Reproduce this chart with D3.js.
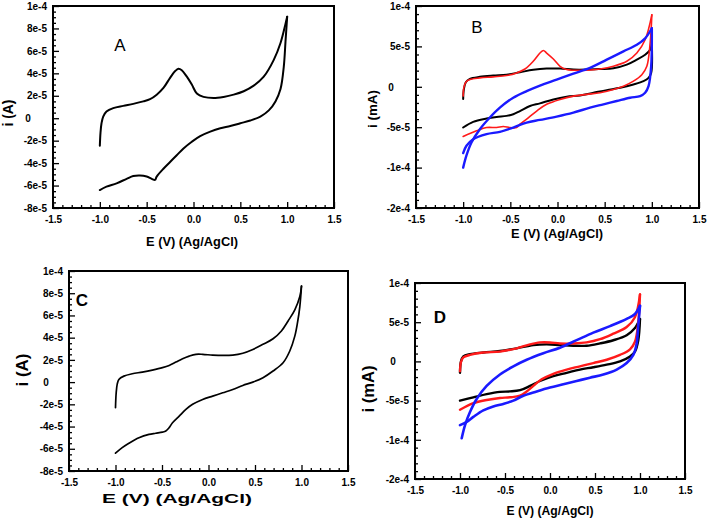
<!DOCTYPE html>
<html><head><meta charset="utf-8">
<script src="https://cdn.jsdelivr.net/npm/d3@7"></script>
<style>html,body{margin:0;padding:0;background:#fff;}svg{display:block;}</style>
</head><body>
<svg id="chart" width="709" height="519"></svg>
<script>
// ---------- DATA (current in units of 1e-5 A) ----------
const xTicks = [-1.5,-1,-0.5,0,0.5,1,1.5];
const xTickLabels = ["-1.5","-1.0","-0.5","0.0","0.5","1.0","1.5"];
const yTicksAC = [10,8,6,4,2,0,-2,-4,-6,-8];
const yTickLabelsAC = ["1e-4","8e-5","6e-5","4e-5","2e-5","0","-2e-5","-4e-5","-6e-5","-8e-5"];
const yTicksBD = [10,5,0,-5,-10,-15];
const yTickLabelsBD = ["1e-4","5e-5","0","-5e-5","-1e-4","-2e-4"];

// Panel A
const aFwdE = [-1.0,-0.993,-0.982,-0.964,-0.929,-0.857,-0.75,-0.643,-0.536,-0.464,-0.393,-0.321,-0.25,-0.196,-0.161,-0.125,-0.071,-0.018,0.036,0.107,0.214,0.321,0.429,0.536,0.643,0.75,0.857,0.929,0.982,1.0];
const aFwdI = [-2.45,-1.3,-0.45,0.15,0.6,0.9,1.1,1.28,1.5,1.7,2.1,2.7,3.6,4.2,4.4,4.27,3.7,3.0,2.2,1.9,1.8,1.9,2.1,2.4,2.9,3.7,5.2,6.7,8.4,9.05];
const aRevE = [1.0,0.982,0.964,0.929,0.875,0.804,0.714,0.607,0.5,0.393,0.286,0.179,0.071,-0.018,-0.107,-0.179,-0.25,-0.321,-0.393,-0.411,-0.446,-0.5,-0.571,-0.643,-0.714,-0.821,-0.929,-1.0];
const aRevI = [9.05,6.8,4.6,2.6,1.5,0.7,0.15,-0.2,-0.45,-0.7,-0.9,-1.2,-1.6,-2.1,-2.7,-3.3,-3.9,-4.5,-5.2,-5.5,-5.4,-5.2,-5.1,-5.15,-5.4,-5.8,-6.1,-6.4];

// Panel C
const cFwdE = [-1.0,-0.993,-0.982,-0.964,-0.91,-0.82,-0.712,-0.604,-0.495,-0.423,-0.351,-0.279,-0.207,-0.135,-0.063,0.045,0.153,0.261,0.369,0.477,0.586,0.694,0.784,0.856,0.928,0.982,1.0];
const cFwdI = [-2.3,-1.0,-0.2,0.24,0.54,0.75,0.9,1.08,1.3,1.5,1.8,2.1,2.34,2.5,2.5,2.43,2.4,2.43,2.6,2.94,3.4,3.9,4.6,5.5,6.5,7.7,8.65];
const cRevE = [1.0,0.982,0.957,0.928,0.874,0.802,0.694,0.586,0.477,0.369,0.261,0.153,0.045,-0.063,-0.171,-0.243,-0.315,-0.387,-0.423,-0.459,-0.495,-0.568,-0.640,-0.748,-0.856,-0.928,-1.0];
const cRevI = [8.65,6.8,5.35,4.14,2.8,1.74,1.0,0.4,0.0,-0.3,-0.66,-0.96,-1.26,-1.56,-2.0,-2.46,-3.06,-3.66,-4.1,-4.4,-4.5,-4.6,-4.7,-5.0,-5.5,-5.9,-6.4];

// Panel B
const bBlackFwdE = [-1.0,-0.993,-0.972,-0.929,-0.823,-0.681,-0.540,-0.398,-0.257,-0.115,0.027,0.168,0.310,0.451,0.593,0.735,0.841,0.929,0.982,1.0];
const bBlackFwdI = [-1.5,-0.33,0.57,0.98,1.23,1.39,1.5,1.8,2.1,2.25,2.25,2.13,2.13,2.2,2.3,2.75,3.36,3.97,4.6,5.4];
const bBlackRevE = [1.0,0.993,0.965,0.912,0.805,0.664,0.522,0.381,0.239,0.097,-0.044,-0.186,-0.292,-0.398,-0.469,-0.540,-0.646,-0.752,-0.894,-1.0];
const bBlackRevI = [5.4,1.7,1.1,0.7,0.29,-0.12,-0.41,-0.74,-1.07,-1.23,-1.56,-2.05,-2.38,-3.0,-3.4,-3.6,-3.73,-3.93,-4.34,-5.04];
const bRedFwdE = [-1.0,-0.993,-0.972,-0.929,-0.823,-0.681,-0.540,-0.434,-0.345,-0.257,-0.186,-0.150,-0.115,-0.044,0.027,0.097,0.168,0.310,0.451,0.593,0.735,0.841,0.929,1.0];
const bRedFwdI = [-1.15,-0.1,0.57,0.9,1.1,1.23,1.39,1.72,2.2,3.16,4.18,4.5,4.18,3.44,2.54,2.13,2.05,2.05,2.2,2.54,3.16,4.18,5.82,8.9];
const bRedRevE = [1.0,0.982,0.947,0.894,0.805,0.699,0.593,0.451,0.310,0.168,0.027,-0.115,-0.221,-0.327,-0.398,-0.434,-0.504,-0.575,-0.646,-0.752,-0.858,-1.0];
const bRedRevI = [8.9,5.4,2.54,1.5,0.7,0.08,-0.33,-0.74,-0.94,-1.15,-1.56,-2.17,-3.0,-4.0,-4.63,-5.04,-5.04,-4.92,-5.04,-5.04,-5.45,-6.15];
const bBlueFwdE = [-1.0,-0.965,-0.912,-0.823,-0.717,-0.611,-0.469,-0.327,-0.186,-0.009,0.168,0.345,0.522,0.699,0.841,0.929,1.0];
const bBlueFwdI = [-10.0,-8.5,-6.9,-5.25,-3.8,-2.58,-1.35,-0.53,0.16,0.9,1.64,2.34,3.36,4.39,5.2,6.0,7.25];
const bBlueRevE = [1.0,0.993,0.965,0.929,0.876,0.770,0.628,0.487,0.345,0.168,-0.009,-0.186,-0.327,-0.469,-0.611,-0.752,-0.894,-0.965,-1.0];
const bBlueRevI = [7.25,2.54,0.08,-0.74,-1.15,-1.35,-1.76,-2.17,-2.58,-3.2,-3.69,-4.1,-4.43,-5.04,-5.57,-5.86,-6.48,-7.3,-8.2];

// Panel D
const dBlackFwdE = [-1.0,-0.989,-0.963,-0.889,-0.741,-0.556,-0.370,-0.185,-0.037,0.111,0.259,0.407,0.556,0.704,0.852,0.944,1.0];
const dBlackFwdI = [-1.46,0,0.63,0.92,1.13,1.33,1.67,2.08,2.17,2.08,2.0,2.0,2.3,2.7,3.33,4.25,5.4];
const dBlackRevE = [1.0,0.981,0.944,0.889,0.778,0.630,0.481,0.333,0.185,0.037,-0.111,-0.222,-0.333,-0.444,-0.556,-0.704,-0.852,-1.0];
const dBlackRevI = [5.4,2.7,1.25,0.63,0,-0.42,-0.75,-1.04,-1.46,-1.88,-2.5,-3.13,-3.67,-3.83,-3.88,-4.17,-4.58,-5.0];
const dRedFwdE = [-1.0,-0.989,-0.963,-0.889,-0.741,-0.556,-0.370,-0.222,-0.111,0.0,0.111,0.259,0.407,0.556,0.704,0.852,0.944,1.0];
const dRedFwdI = [-1.25,-0.08,0.5,0.83,1.13,1.25,1.67,2.17,2.42,2.42,2.29,2.29,2.42,2.83,3.54,4.38,5.63,8.54];
const dRedRevE = [1.0,0.981,0.944,0.889,0.778,0.630,0.481,0.333,0.185,0.037,-0.093,-0.185,-0.259,-0.333,-0.444,-0.556,-0.704,-0.852,-1.0];
const dRedRevI = [8.54,5.0,2.5,1.54,0.83,0.21,-0.21,-0.63,-1.04,-1.58,-2.29,-3.13,-3.83,-4.38,-4.58,-4.67,-4.92,-5.33,-6.17];
const dBlueFwdE = [-0.981,-0.944,-0.889,-0.815,-0.704,-0.556,-0.407,-0.259,-0.074,0.111,0.296,0.481,0.667,0.852,0.944,1.0];
const dBlueFwdI = [-9.8,-8.13,-6.46,-4.79,-3.13,-1.67,-0.63,0.21,1.04,1.75,2.71,3.67,4.5,5.42,6.04,7.08];
const dBlueRevE = [1.0,0.981,0.963,0.926,0.852,0.741,0.593,0.444,0.296,0.148,0.0,-0.148,-0.296,-0.407,-0.519,-0.630,-0.741,-0.852,-0.926,-1.0];
const dBlueRevI = [7.08,4.58,2.29,0.83,-0.21,-1.04,-1.67,-2.08,-2.5,-2.92,-3.33,-3.83,-4.38,-5.0,-5.42,-5.75,-6.25,-7.08,-7.71,-8.13];

// ---------- LAYOUT ----------
const RED = "#ff1a1a", BLUE = "#1a1aff", BLACK = "#000";
const FONT = "'Liberation Sans', Arial, sans-serif";
const svg = d3.select("#chart");

const panels = [
  { letter:"A", letterPos:[120,45], letterBold:false,
    box:{l:53,r:334,t:6,b:208}, yDom:[-8,10], yT:yTicksAC, yL:yTickLabelsAC, zeroX:28,
    yMinorStep:0.5, xTitle:[192,243,92,13], yTitle:[9,113,27,14,"i (A)"],
    series:[[aFwdE,aFwdI,BLACK,2],[aRevE,aRevI,BLACK,2]] },
  { letter:"B", letterPos:[477,27], letterBold:false,
    box:{l:416,r:699,t:6,b:208}, yDom:[-15,10], yT:yTicksBD, yL:yTickLabelsBD, zeroX:391,
    yMinorStep:1, xTitle:[557,235,92,13], yTitle:[373,109,38,13.5,"i (mA)"],
    series:[[bBlackFwdE,bBlackFwdI,BLACK,2],[bBlackRevE,bBlackRevI,BLACK,2],
            [bRedFwdE,bRedFwdI,RED,1.6],[bRedRevE,bRedRevI,RED,1.6],
            [bBlueFwdE,bBlueFwdI,BLUE,2.4],[bBlueRevE,bBlueRevI,BLUE,2.4]] },
  { letter:"C", letterPos:[82,300], letterBold:true,
    box:{l:69,r:348,t:271,b:471}, yDom:[-8,10], yT:yTicksAC, yL:yTickLabelsAC, zeroX:46,
    yMinorStep:0.5, xTitle:[177,499,150,13.5], yTitle:[24,370,33,16,"i (A)"],
    series:[[cFwdE,cFwdI,BLACK,1.7],[cRevE,cRevI,BLACK,1.7]] },
  { letter:"D", letterPos:[440,317], letterBold:true,
    box:{l:415,r:685,t:283,b:479}, yDom:[-15,10], yT:yTicksBD, yL:yTickLabelsBD, zeroX:393,
    yMinorStep:1, xTitle:[550,512,87,12.5], yTitle:[370,389,47,16,"i (mA)"],
    series:[[dBlackFwdE,dBlackFwdI,BLACK,2.4],[dBlackRevE,dBlackRevI,BLACK,2.4],
            [dRedFwdE,dRedFwdI,RED,2.4],[dRedRevE,dRedRevI,RED,2.4],
            [dBlueFwdE,dBlueFwdI,BLUE,2.6],[dBlueRevE,dBlueRevI,BLUE,2.6]] }
];

panels.forEach(p => {
  const b = p.box;
  const x = d3.scaleLinear().domain([-1.5,1.5]).range([b.l,b.r]);
  const y = d3.scaleLinear().domain(p.yDom).range([b.b,b.t]);
  const g = svg.append("g");

  // curves
  const line = d3.line().x(d=>x(d[0])).y(d=>y(d[1])).curve(d3.curveCatmullRom.alpha(0.5));
  p.series.forEach(([E,I,col,w]) => {
    const pts = E.map((e,i)=>[e,I[i]]);
    g.append("path").attr("d", line(pts)).attr("fill","none")
      .attr("stroke",col).attr("stroke-width",w).attr("stroke-linejoin","round").attr("stroke-linecap","round");
  });

  // x axis minor + major
  const xMinor = d3.range(-1.5,1.5001,0.1).map(v=>+v.toFixed(2)).filter(v=>!xTicks.some(t=>Math.abs(t-v)<1e-6));
  const gxm = g.append("g").attr("transform",`translate(0,${b.b})`)
    .call(d3.axisBottom(x).tickValues(xMinor).tickSize(-3).tickFormat(""));
  gxm.select(".domain").remove();
  const gx = g.append("g").attr("transform",`translate(0,${b.b})`)
    .call(d3.axisBottom(x).tickValues(xTicks).tickSize(-6).tickPadding(8).tickFormat((d,i)=>xTickLabels[i]));
  gx.select(".domain").remove();

  // y axis minor + major
  const yMinor = d3.range(p.yDom[0],p.yDom[1]+0.001,p.yMinorStep).map(v=>+v.toFixed(3)).filter(v=>!p.yT.some(t=>Math.abs(t-v)<1e-6));
  const gym = g.append("g").attr("transform",`translate(${b.l},0)`)
    .call(d3.axisLeft(y).tickValues(yMinor).tickSize(-3).tickFormat(""));
  gym.select(".domain").remove();
  const gy = g.append("g").attr("transform",`translate(${b.l},0)`)
    .call(d3.axisLeft(y).tickValues(p.yT).tickSize(-6).tickPadding(6).tickFormat((d,i)=>p.yL[i]));
  gy.select(".domain").remove();
  gy.selectAll(".tick text").filter(function(){return d3.select(this).text()==="0";})
    .attr("text-anchor","middle").attr("x", p.zeroX - b.l);

  [gx,gy,gxm,gym].forEach(s=>{
    s.selectAll("line").attr("stroke","#000").attr("stroke-width",1.3);
    s.selectAll("text").attr("fill","#000").style("font-family",FONT).style("font-size","10px").style("font-weight","bold");
  });

  // frame
  g.append("rect").attr("x",b.l).attr("y",b.t).attr("width",b.r-b.l).attr("height",b.b-b.t)
    .attr("fill","none").attr("stroke","#000").attr("stroke-width",2);

  // titles
  g.append("text").attr("x",p.xTitle[0]).attr("y",p.xTitle[1]).attr("text-anchor","middle")
    .attr("dominant-baseline","middle").attr("textLength",p.xTitle[2]).attr("lengthAdjust","spacingAndGlyphs")
    .style("font-family",FONT).style("font-size",p.xTitle[3]+"px").style("font-weight","bold").text("E (V) (Ag/AgCl)");
  g.append("text").attr("transform",`translate(${p.yTitle[0]},${p.yTitle[1]}) rotate(-90)`)
    .attr("text-anchor","middle").attr("dominant-baseline","middle")
    .attr("textLength",p.yTitle[2]).attr("lengthAdjust","spacingAndGlyphs")
    .style("font-family",FONT).style("font-size",p.yTitle[3]+"px").style("font-weight","bold").text(p.yTitle[4]);

  // panel letter
  g.append("text").attr("x",p.letterPos[0]).attr("y",p.letterPos[1]).attr("text-anchor","middle")
    .attr("dominant-baseline","central")
    .style("font-family",FONT).style("font-size","17px").style("font-weight",p.letterBold?"bold":"normal").text(p.letter);
});
</script>
</body></html>
